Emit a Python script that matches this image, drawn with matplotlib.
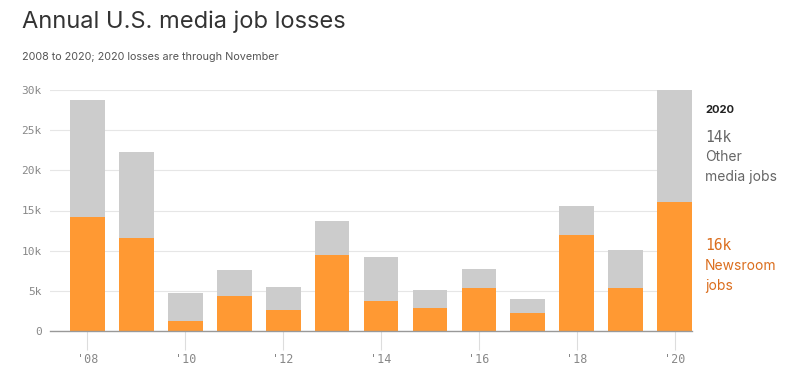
import matplotlib
matplotlib.use("Agg")
import matplotlib.pyplot as plt

years = [2008, 2009, 2010, 2011, 2012, 2013, 2014, 2015, 2016, 2017, 2018, 2019, 2020]
newsroom = [14.2, 11.6, 1.25, 4.4, 2.6, 9.5, 3.75, 2.9, 5.4, 2.25, 11.9, 5.4, 16.1]
totals = [28.7, 22.3, 4.75, 7.6, 5.5, 13.75, 9.25, 5.1, 7.75, 4.0, 15.5, 10.1, 30.0]
other = [t - n for t, n in zip(totals, newsroom)]
yticks = [0, 5, 10, 15, 20, 25, 30]
ytick_labels = ["0", "5k", "10k", "15k", "20k", "25k", "30k"]
xticks = [2008, 2010, 2012, 2014, 2016, 2018, 2020]
xtick_labels = ["'08", "'10", "'12", "'14", "'16", "'18", "'20"]

ORANGE = "#FF9933"
GREY = "#CCCCCC"
ORANGE_TXT = "#DB6E1E"
SANS = ["Inter", "DejaVu Sans"]
MONO = ["DejaVu Sans Mono"]

fig = plt.figure(figsize=(8, 3.88), dpi=100)
ax = fig.add_axes([50/800, 1-331/388, (692-50)/800, (331-90)/388])

w = 0.71
ax.bar(years, newsroom, width=w, color=ORANGE, zorder=3, clip_on=False)
ax.bar(years, other, bottom=newsroom, width=w, color=GREY, zorder=3, clip_on=False)

ax.set_xlim(2008 - w/2 - 0.41, 2020 + w/2)
ax.set_ylim(0, 30)
ax.set_yticks(yticks)
ax.set_yticklabels(ytick_labels, fontfamily=MONO, fontsize=8, color="#888888")
ax.set_xticks(xticks)
ax.set_xticklabels(xtick_labels, fontfamily=MONO, fontsize=8.5, color="#888888")
ax.tick_params(axis="y", length=0, pad=6)
ax.tick_params(axis="x", length=14, width=0.8, color="#dddddd", pad=2)
ax.grid(axis="y", color="#e6e6e6", linewidth=0.8, zorder=0)
for s in ["top", "right", "left"]:
    ax.spines[s].set_visible(False)
ax.spines["bottom"].set_color("#999999")
ax.spines["bottom"].set_linewidth(1.0)
ax.spines["bottom"].set_zorder(4)

fig.text(22/800, 1-22/388, "Annual U.S. media job losses", fontfamily=SANS, fontsize=17,
         color="#333333", va="center", ha="left")
fig.text(22/800, 1-57/388, "2008 to 2020; 2020 losses are through November", fontfamily=SANS,
         fontsize=7.8, color="#555555", va="center", ha="left")

x0 = 705/800
fig.text(x0, 1-110/388, "2020", fontfamily=SANS, fontsize=8, fontweight="bold", color="#222222", va="center")
fig.text(x0, 1-137/388, "14k", fontfamily=MONO, fontsize=10.5, color="#666666", va="center")
fig.text(x0, 1-157/388, "Other", fontfamily=SANS, fontsize=10, color="#666666", va="center")
fig.text(x0, 1-177/388, "media jobs", fontfamily=SANS, fontsize=10, color="#666666", va="center")
fig.text(x0, 1-246/388, "16k", fontfamily=MONO, fontsize=10.5, color=ORANGE_TXT, va="center")
fig.text(x0, 1-266/388, "Newsroom", fontfamily=SANS, fontsize=10, color=ORANGE_TXT, va="center")
fig.text(x0, 1-286/388, "jobs", fontfamily=SANS, fontsize=10, color=ORANGE_TXT, va="center")

fig.savefig("out.png", dpi=100)
